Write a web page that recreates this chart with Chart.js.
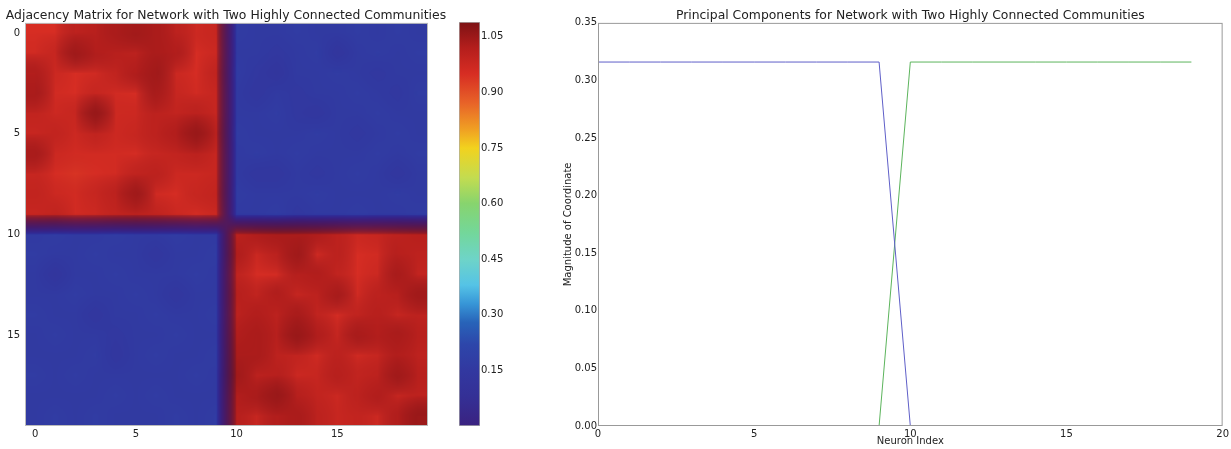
<!DOCTYPE html>
<html>
<head>
<meta charset="utf-8">
<script src="https://cdn.jsdelivr.net/npm/chart.js@4.4.1/dist/chart.umd.min.js"></script>
<style>
  body { margin: 0; background: #fff; }
  #wrap { position: relative; width: 1231px; height: 449px; overflow: hidden; background: #fff; }
  #wrap canvas { position: absolute; top: 0; }
</style>
</head>
<body>
<div id="wrap">
  <canvas id="heatChart" width="452" height="449" style="left:0px"></canvas>
  <canvas id="barChart" width="60" height="449" style="left:450px"></canvas>
  <canvas id="pcChart" width="691" height="449" style="left:540px"></canvas>
</div>
<script>
// Adjacency matrix, rows 0..19 (top to bottom), cols 0..19
const adjacency = [
  [0.95,0.95,1.00,1.01,1.03,1.04,1.03,1.00,0.97,0.98, 0.17,0.16,0.16,0.17,0.16,0.16,0.17,0.16,0.17,0.16],
  [0.96,0.98,1.04,1.02,1.01,1.00,1.03,1.02,0.95,0.97, 0.16,0.16,0.15,0.16,0.17,0.13,0.16,0.17,0.16,0.17],
  [1.02,0.97,0.95,0.96,0.99,1.02,1.04,0.97,0.95,0.99, 0.17,0.15,0.13,0.16,0.16,0.17,0.16,0.15,0.16,0.16],
  [1.03,0.96,0.95,0.98,0.96,0.95,1.03,0.98,0.96,0.98, 0.16,0.14,0.16,0.15,0.16,0.16,0.17,0.16,0.15,0.17],
  [0.99,0.97,0.98,1.05,0.97,0.97,1.00,0.99,1.00,0.98, 0.16,0.16,0.17,0.15,0.14,0.16,0.16,0.17,0.16,0.16],
  [0.98,0.99,0.97,0.99,0.97,0.98,1.00,1.02,1.05,1.00, 0.17,0.16,0.16,0.16,0.17,0.16,0.15,0.16,0.17,0.16],
  [1.03,0.97,0.96,0.96,0.96,0.95,0.98,0.99,1.00,0.98, 0.16,0.17,0.16,0.17,0.16,0.16,0.16,0.17,0.16,0.17],
  [0.98,0.95,0.94,0.95,0.96,0.99,1.00,0.97,0.97,0.98, 0.16,0.14,0.14,0.16,0.15,0.16,0.17,0.16,0.14,0.16],
  [0.99,0.97,0.96,0.98,1.00,1.04,0.96,0.95,0.98,0.99, 0.17,0.16,0.16,0.16,0.17,0.16,0.16,0.16,0.17,0.16],
  [0.98,0.99,0.96,0.97,0.99,1.00,0.99,0.97,0.95,0.97, 0.16,0.16,0.17,0.15,0.16,0.16,0.17,0.16,0.16,0.17],
  [0.16,0.17,0.16,0.16,0.17,0.16,0.16,0.17,0.16,0.16, 1.00,1.02,1.03,1.03,1.02,1.00,0.97,0.98,1.00,1.01],
  [0.17,0.16,0.16,0.17,0.16,0.16,0.14,0.16,0.16,0.17, 1.02,0.97,1.00,1.04,0.96,1.00,0.95,0.96,1.01,1.00],
  [0.16,0.13,0.16,0.16,0.17,0.16,0.16,0.16,0.17,0.16, 0.99,0.95,0.95,1.01,1.02,0.99,0.95,0.97,1.03,0.99],
  [0.16,0.16,0.17,0.16,0.16,0.17,0.16,0.14,0.16,0.16, 1.01,0.99,1.02,0.98,1.00,1.03,0.96,1.00,1.01,1.04],
  [0.17,0.16,0.16,0.14,0.16,0.16,0.17,0.16,0.16,0.17, 1.00,1.02,1.00,1.03,0.99,0.95,0.99,1.01,0.98,1.00],
  [0.16,0.17,0.16,0.16,0.15,0.16,0.16,0.17,0.16,0.16, 1.02,1.03,1.01,1.05,1.02,0.98,1.03,1.02,1.03,1.01],
  [0.16,0.16,0.16,0.17,0.14,0.16,0.17,0.16,0.16,0.17, 1.03,1.03,1.00,0.99,0.96,1.00,0.96,0.98,1.02,1.00],
  [0.17,0.16,0.17,0.16,0.16,0.16,0.16,0.16,0.17,0.16, 1.04,1.00,1.01,0.97,0.98,1.01,0.99,1.00,1.04,1.01],
  [0.16,0.16,0.16,0.16,0.17,0.16,0.17,0.16,0.16,0.16, 1.02,1.03,1.05,1.01,0.99,0.97,1.00,1.02,0.98,1.00],
  [0.16,0.17,0.16,0.17,0.16,0.16,0.16,0.17,0.16,0.17, 1.01,0.98,1.02,1.03,1.00,0.98,0.99,0.97,1.02,1.05]
];
const heatTicks = [0, 5, 10, 15];
const colorbarTicks = [0.15, 0.30, 0.45, 0.60, 0.75, 0.90, 1.05];
const colorMin = 0.0;
const colorMax = 1.09;

// Principal components
const neuronIndex = [0,1,2,3,4,5,6,7,8,9,10,11,12,13,14,15,16,17,18,19];
const pc1 = [0.316,0.316,0.316,0.316,0.316,0.316,0.316,0.316,0.316,0.316, 0,0,0,0,0,0,0,0,0,0];
const pc2 = [0,0,0,0,0,0,0,0,0,0, 0.316,0.316,0.316,0.316,0.316,0.316,0.316,0.316,0.316,0.316];

// jet-like colormap as it looks in the picture (value -> rgb)
const jetStops = [
  [0.00, [58, 34, 128]], [0.08, [52, 48, 150]], [0.15, [50, 56, 160]], [0.22, [45, 70, 170]],
  [0.28, [40, 100, 185]], [0.33, [55, 150, 215]], [0.38, [85, 195, 230]], [0.45, [110, 212, 200]],
  [0.52, [115, 215, 155]], [0.60, [135, 212, 110]], [0.67, [195, 220, 80]], [0.75, [242, 210, 30]],
  [0.80, [240, 160, 35]], [0.87, [232, 100, 40]], [0.95, [215, 45, 35]], [1.02, [180, 30, 28]],
  [1.09, [125, 18, 20]]
];

function colorAt(v) {
  if (v <= jetStops[0][0]) return jetStops[0][1];
  for (let i = 1; i < jetStops.length; i++) {
    const [v1, c1] = jetStops[i];
    if (v <= v1) {
      const [v0, c0] = jetStops[i - 1];
      const t = (v - v0) / (v1 - v0);
      return [0, 1, 2].map(k => c0[k] + (c1[k] - c0[k]) * t);
    }
  }
  return jetStops[jetStops.length - 1][1];
}
const rgb = c => `rgb(${Math.round(c[0])},${Math.round(c[1])},${Math.round(c[2])})`;

Chart.defaults.font.family = "'DejaVu Sans', sans-serif";
Chart.defaults.color = '#222';

// cells for the heatmap
const cells = [];
adjacency.forEach((row, i) => row.forEach((v, j) => cells.push({ x: j, y: i, v: v })));

// Smooth the cells like an interpolated image (colours mixed in rgb)
const smoothCells = {
  id: 'smoothCells',
  afterDatasetsDraw(chart) {
    const { ctx, chartArea: a, scales: { x, y } } = chart;
    const w = Math.round(a.right - a.left), h = Math.round(a.bottom - a.top);
    const grid = [];
    chart.data.datasets[0].data.forEach(c => {
      (grid[c.y] = grid[c.y] || [])[c.x] = colorAt(c.v);
    });
    const n = grid.length, m = grid[0].length;
    const off = document.createElement('canvas');
    off.width = w; off.height = h;
    const octx = off.getContext('2d');
    const img = octx.createImageData(w, h);
    const clamp = (v, lo, hi) => Math.min(Math.max(v, lo), hi);
    for (let py = 0; py < h; py++) {
      const fy = clamp(y.getValueForPixel(a.top + py + 0.5), 0, n - 1);
      const r0 = Math.floor(fy), r1 = Math.min(r0 + 1, n - 1), ty = fy - r0;
      for (let px = 0; px < w; px++) {
        const fx = clamp(x.getValueForPixel(a.left + px + 0.5), 0, m - 1);
        const c0 = Math.floor(fx), c1 = Math.min(c0 + 1, m - 1), tx = fx - c0;
        const cs = [grid[r0][c0], grid[r0][c1], grid[r1][c0], grid[r1][c1]];
        const ws = [(1 - tx) * (1 - ty), tx * (1 - ty), (1 - tx) * ty, tx * ty];
        const mean = [0, 0, 0];
        cs.forEach((c, k) => { for (let q = 0; q < 3; q++) mean[q] += c[q] * ws[k]; });
        let spread = 0;
        cs.forEach((c, k) => {
          const d = (c[0] - mean[0]) ** 2 + (c[1] - mean[1]) ** 2 + (c[2] - mean[2]) ** 2;
          spread += d * ws[k];
        });
        const s = Math.min(1, Math.sqrt(spread) / 103);
        const idx = (py * w + px) * 4;
        img.data[idx] = mean[0] * (1 - 0.35 * s);
        img.data[idx + 1] = mean[1] * (1 - 0.5 * s);
        img.data[idx + 2] = mean[2] * (1 - 0.05 * s);
        img.data[idx + 3] = 255;
      }
    }
    octx.putImageData(img, 0, 0);
    ctx.drawImage(off, a.left, a.top, w, h);
  }
};

// box around the plot area
const frame = {
  id: 'frame',
  afterDraw(chart, args, opts) {
    const { ctx, chartArea: a } = chart;
    ctx.save();
    ctx.strokeStyle = opts.color || '#999';
    ctx.lineWidth = 1;
    ctx.strokeRect(a.left + 0.5, a.top + 0.5, a.right - a.left - 1, a.bottom - a.top - 1);
    ctx.restore();
  }
};

// Heatmap
new Chart(document.getElementById('heatChart'), {
  type: 'scatter',
  data: {
    datasets: [{
      data: cells,
      pointStyle: 'rect',
      pointRadius: ctx => {
        const s = ctx.chart.scales.x;
        return s ? Math.abs(s.getPixelForValue(1) - s.getPixelForValue(0)) / Math.SQRT2 + 0.5 : 10;
      },
      backgroundColor: ctx => rgb(colorAt(ctx.raw ? ctx.raw.v : 0)),
      borderWidth: 0
    }]
  },
  options: {
    responsive: false,
    animation: false,
    events: [],
    layout: { padding: 0 },
    plugins: {
      legend: { display: false },
      tooltip: { enabled: false },
      title: {
        display: true,
        text: 'Adjacency Matrix for Network with Two Highly Connected Communities',
        font: { size: 12.4, weight: 'normal' },
        padding: { top: 8, bottom: 0 },
        color: '#222'
      },
      frame: { color: '#bbb' }
    },
    scales: {
      x: {
        type: 'linear', min: -0.5, max: 19.5,
        grid: { display: false, drawTicks: false }, border: { display: false },
        afterBuildTicks: s => { s.ticks = heatTicks.map(v => ({ value: v })); },
        ticks: { padding: 2, font: { size: 10 }, maxRotation: 0, autoSkip: false },
        afterFit: s => { s.height = 23; }
      },
      y: {
        type: 'linear', reverse: true, min: -0.5, max: 19.5,
        grid: { display: false, drawTicks: false }, border: { display: false },
        afterBuildTicks: s => { s.ticks = heatTicks.map(v => ({ value: v })); },
        ticks: { padding: 5, font: { size: 10 }, autoSkip: false },
        afterFit: s => { s.width = 25; }
      },
      pad: {
        type: 'linear', axis: 'y', position: 'right',
        grid: { display: false, drawTicks: false }, border: { display: false },
        ticks: { display: false },
        afterFit: s => { s.width = 24; }
      }
    }
  },
  plugins: [smoothCells, frame]
});

// Colorbar
new Chart(document.getElementById('barChart'), {
  type: 'bar',
  data: {
    labels: [''],
    datasets: [{
      data: [[colorMin, colorMax]],
      backgroundColor: ctx => {
        const { chart } = ctx;
        const ys = chart.scales.y;
        if (!chart.chartArea || !ys) return rgb(jetStops[0][1]);
        const g = chart.ctx.createLinearGradient(0, ys.getPixelForValue(colorMin), 0, ys.getPixelForValue(colorMax));
        jetStops.forEach(([v, c]) => g.addColorStop((v - colorMin) / (colorMax - colorMin), rgb(c)));
        return g;
      },
      borderColor: '#aaa',
      borderWidth: 1,
      borderSkipped: false,
      barPercentage: 1,
      categoryPercentage: 1
    }]
  },
  options: {
    responsive: false,
    animation: false,
    events: [],
    layout: { padding: { left: 9, top: 22, bottom: 23, right: 0 } },
    plugins: { legend: { display: false }, tooltip: { enabled: false } },
    scales: {
      x: { display: false },
      y: {
        position: 'right', min: colorMin, max: colorMax,
        grid: { display: false, drawTicks: false }, border: { display: false },
        afterBuildTicks: s => { s.ticks = colorbarTicks.map(v => ({ value: v })); },
        ticks: { padding: 1, font: { size: 10 }, autoSkip: false, callback: v => Number(v).toFixed(2) },
        afterFit: s => { s.width = 30; }
      }
    }
  }
});

// Principal components
new Chart(document.getElementById('pcChart'), {
  type: 'line',
  data: {
    datasets: [
      {
        label: 'PC 1',
        data: neuronIndex.map((n, i) => ({ x: n, y: pc1[i] })),
        borderColor: '#5f5fc8', borderWidth: 1, pointRadius: 0, fill: false, tension: 0
      },
      {
        label: 'PC 2',
        data: neuronIndex.map((n, i) => ({ x: n, y: pc2[i] })),
        borderColor: '#5cb45c', borderWidth: 1, pointRadius: 0, fill: false, tension: 0
      }
    ]
  },
  options: {
    responsive: false,
    animation: false,
    events: [],
    layout: { padding: { left: 0, right: 8, top: 0, bottom: 0 } },
    plugins: {
      legend: { display: false },
      tooltip: { enabled: false },
      title: {
        display: true,
        fullSize: false,
        text: 'Principal Components for Network with Two Highly Connected Communities',
        font: { size: 12.4, weight: 'normal' },
        padding: { top: 8, bottom: 0 },
        color: '#222'
      },
      frame: { color: '#999' }
    },
    scales: {
      x: {
        type: 'linear', min: 0, max: 20,
        grid: { display: false, drawTicks: false }, border: { display: false },
        ticks: { stepSize: 5, padding: 2, font: { size: 10 }, maxRotation: 0 },
        title: { display: true, text: 'Neuron Index', font: { size: 10 }, padding: { top: 0, bottom: 2 }, color: '#222' },
        afterFit: s => { s.height = 23; }
      },
      y: {
        min: 0, max: 0.35,
        grid: { display: false, drawTicks: false }, border: { display: false },
        ticks: { stepSize: 0.05, padding: 1, font: { size: 10 }, callback: v => Number(v).toFixed(2) },
        title: { display: true, text: 'Magnitude of Coordinate', font: { size: 10 }, padding: { top: 22, bottom: 0 }, color: '#222' },
        afterFit: s => { s.width = 58; }
      }
    }
  },
  plugins: [frame]
});
</script>
</body>
</html>
